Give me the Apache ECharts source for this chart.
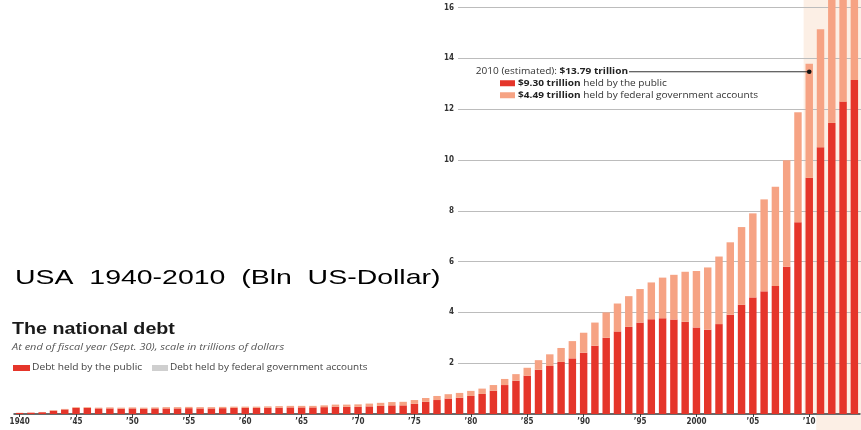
<!DOCTYPE html>
<html>
<head>
<meta charset="utf-8">
<script src="https://cdn.jsdelivr.net/npm/echarts@6/dist/echarts.min.js"></script>
<style>
  html, body { margin: 0; padding: 0; background: #fff; }
  #c { width: 861px; height: 430px; }
</style>
</head>
<body>
<div id="c"></div>
<script>
// Fiscal years shown on the category axis
const years = [
  1940,1941,1942,1943,1944,1945,1946,1947,1948,1949,
  1950,1951,1952,1953,1954,1955,1956,1957,1958,1959,
  1960,1961,1962,1963,1964,1965,1966,1967,1968,1969,
  1970,1971,1972,1973,1974,1975,1976,1977,1978,1979,
  1980,1981,1982,1983,1984,1985,1986,1987,1988,1989,
  1990,1991,1992,1993,1994,1995,1996,1997,1998,1999,
  2000,2001,2002,2003,2004,2005,2006,2007,2008,2009,
  2010,2011,2012,2013,2014
];

// Debt held by the public, trillions of dollars
const publicDebt = [
  0.04,0.05,0.07,0.13,0.18,0.24,0.24,0.22,0.22,0.21,
  0.22,0.21,0.22,0.22,0.22,0.23,0.22,0.22,0.23,0.24,
  0.24,0.24,0.25,0.25,0.26,0.26,0.26,0.27,0.29,0.28,
  0.28,0.30,0.32,0.34,0.34,0.40,0.48,0.55,0.61,0.64,
  0.71,0.79,0.92,1.14,1.31,1.51,1.74,1.89,2.05,2.19,
  2.41,2.69,3.00,3.25,3.43,3.60,3.73,3.77,3.72,3.63,
  3.41,3.32,3.54,3.91,4.30,4.59,4.83,5.04,5.80,7.55,
  9.30,10.50,11.46,12.30,13.15
];

// Debt held by federal government accounts, trillions of dollars
const intragovDebt = [
  0.01,0.01,0.01,0.02,0.02,0.03,0.03,0.03,0.04,0.04,
  0.04,0.04,0.04,0.05,0.05,0.05,0.05,0.05,0.05,0.05,
  0.05,0.05,0.05,0.06,0.06,0.06,0.06,0.07,0.08,0.09,
  0.10,0.11,0.12,0.13,0.14,0.15,0.15,0.16,0.17,0.19,
  0.20,0.21,0.22,0.24,0.26,0.31,0.38,0.46,0.55,0.68,
  0.79,0.91,1.00,1.10,1.21,1.32,1.45,1.60,1.76,1.97,
  2.22,2.45,2.66,2.85,3.06,3.31,3.62,3.91,4.19,4.33,
  4.49,4.65,4.95,5.20,5.45
];

// Value axis tick labels
const yTicks = [2, 4, 6, 8, 10, 12, 14, 16];

const highlightYear = 2010;   // estimated year, called out and shaded
const tickStep = 5;           // a year label every five years

const RED = '#e5352a';
const SALMON = '#f6a384';
const BAND = '#fcefe5';
const SANS = '"Liberation Sans", Arial, sans-serif';
const HUMAN = '"Open Sans", "Liberation Sans", sans-serif';
const COND = '"DejaVu Sans Condensed", "Liberation Sans Narrow", "DejaVu Sans", sans-serif';
const Y_MAX = 16.3;

const firstYear = years[0];
const showYear = (i, v) => (Number(v) - firstYear) % tickStep === 0;
const yearLabel = v => {
  const n = Number(v);
  return (n === firstYear || n % 100 === 0) ? String(n) : '\u2019' + String(n).slice(2);
};

const chart = echarts.init(document.getElementById('c'), null, { renderer: 'canvas' });

const option = {
  animation: false,
  backgroundColor: '#fff',
  grid: [
    { left: 14, right: 1, top: 0, bottom: 16 },
    { left: 458, right: 0, top: 0, bottom: 16 }
  ],
  xAxis: [
    {
      type: 'category', gridIndex: 0, data: years.map(String),
      axisLine: { lineStyle: { color: '#3a3a3a', width: 1.5 } },
      axisTick: { show: true, interval: showYear, alignWithLabel: true, length: 3,
                  lineStyle: { color: '#3a3a3a' } },
      axisLabel: { interval: showYear, formatter: yearLabel, fontSize: 8, fontWeight: 'bold',
                   color: '#333', margin: 4, fontFamily: COND },
      splitLine: { show: false }
    },
    { type: 'value', gridIndex: 1, show: false, min: 0, max: 1 }
  ],
  yAxis: [
    { type: 'value', gridIndex: 0, min: 0, max: Y_MAX, show: false, splitLine: { show: false } },
    {
      type: 'value', gridIndex: 1, min: 0, max: Y_MAX, interval: yTicks[1] - yTicks[0],
      axisLine: { show: false }, axisTick: { show: false },
      axisLabel: { showMinLabel: false, showMaxLabel: false, fontSize: 8, fontWeight: 'bold',
                   color: '#333', margin: 4, fontFamily: COND,
                   formatter: v => yTicks.includes(v) ? String(v) : '' },
      splitLine: { show: true, showMinLine: false, showMaxLine: false,
                   lineStyle: { color: '#bcbcbc', width: 1 } }
    }
  ],
  series: [
    { name: 'Debt held by the public', type: 'bar', stack: 'debt', xAxisIndex: 0, yAxisIndex: 0,
      data: publicDebt, barWidth: '66%', itemStyle: { color: RED }, z: 3 },
    { name: 'Debt held by federal government accounts', type: 'bar', stack: 'debt',
      xAxisIndex: 0, yAxisIndex: 0,
      data: intragovDebt, barWidth: '66%', itemStyle: { color: SALMON }, z: 3 }
  ]
};

chart.setOption(option);

// Positions derived from the axes for the shaded estimate band and the call-out
const hi = years.indexOf(highlightYear);
const pubHi = publicDebt[hi];
const govHi = intragovDebt[hi];
const totalHi = Math.round((pubHi + govHi) * 100) / 100;
const pA = chart.convertToPixel({ xAxisIndex: 0, yAxisIndex: 0 }, [String(years[hi]), totalHi]);
const pB = chart.convertToPixel({ xAxisIndex: 0, yAxisIndex: 0 }, [String(years[hi + 1]), 0]);
const base = chart.convertToPixel({ xAxisIndex: 0, yAxisIndex: 0 }, [String(years[hi]), 0]);
const bandW = pB[0] - pA[0];
const W = chart.getWidth(), H = chart.getHeight();
const dotY = pA[1] + 8;

const calloutRich = {
  n: { fontSize: 9, fontFamily: HUMAN, fill: '#333' },
  b: { fontSize: 9, fontFamily: HUMAN, fontWeight: 'bold', fill: '#222' }
};

chart.setOption({
  graphic: [
    // shaded estimate band
    { type: 'rect', z: -10, silent: true,
      shape: { x: pA[0] - bandW / 2, y: 0, width: W - (pA[0] - bandW / 2), height: base[1] },
      style: { fill: BAND } },
    { type: 'rect', z: -10, silent: true,
      shape: { x: pA[0] + 7, y: base[1] + 1, width: W - pA[0] - 7, height: H - base[1] },
      style: { fill: BAND } },

    // call-out for the estimated year
    { type: 'line', z: 10, silent: true,
      shape: { x1: 629, y1: dotY, x2: pA[0], y2: dotY },
      style: { stroke: '#333', lineWidth: 1 } },
    { type: 'circle', z: 11, silent: true,
      shape: { cx: pA[0], cy: dotY, r: 2.3 }, style: { fill: '#111' } },
    { type: 'text', z: 10, x: 628, y: dotY, scaleX: 1.12, silent: true,
      style: {
        text: '{n|' + years[hi] + ' (estimated): }{b|$' + totalHi.toFixed(2) + ' trillion}',
        align: 'right', verticalAlign: 'middle', textAlign: 'right', textVerticalAlign: 'middle',
        rich: calloutRich
      } },
    { type: 'rect', z: 10, silent: true, shape: { x: 500, y: dotY + 8.5, width: 15, height: 6 },
      style: { fill: RED } },
    { type: 'text', z: 10, x: 518, y: dotY + 11.5, scaleX: 1.12, silent: true,
      style: {
        text: '{b|$' + pubHi.toFixed(2) + ' trillion}{n| held by the public}',
        verticalAlign: 'middle', textVerticalAlign: 'middle',
        rich: calloutRich
      } },
    { type: 'rect', z: 10, silent: true, shape: { x: 500, y: dotY + 20.5, width: 15, height: 6 },
      style: { fill: SALMON } },
    { type: 'text', z: 10, x: 518, y: dotY + 23.5, scaleX: 1.12, silent: true,
      style: {
        text: '{b|$' + govHi.toFixed(2) + ' trillion}{n| held by federal government accounts}',
        verticalAlign: 'middle', textVerticalAlign: 'middle',
        rich: calloutRich
      } },

    // headline overlay
    { type: 'text', z: 20, x: 15, y: 278, scaleX: 1.355, silent: true,
      style: { text: 'USA  1940-2010  (Bln  US-Dollar)', font: '21px ' + SANS, fill: '#000',
               verticalAlign: 'middle', textVerticalAlign: 'middle' } },

    // chart title block
    { type: 'text', z: 20, x: 12, y: 330, scaleX: 1.23, silent: true,
      style: { text: 'The national debt', font: 'bold 16px ' + SANS, fill: '#1a1a1a',
               verticalAlign: 'middle', textVerticalAlign: 'middle' } },
    { type: 'text', z: 20, x: 12, y: 347, scaleX: 1.22, silent: true,
      style: { text: 'At end of fiscal year (Sept. 30), scale in trillions of dollars',
               font: 'italic 9px ' + HUMAN, fill: '#555',
               verticalAlign: 'middle', textVerticalAlign: 'middle' } },

    // legend
    { type: 'rect', z: 20, silent: true, shape: { x: 13, y: 365, width: 17, height: 6 },
      style: { fill: RED } },
    { type: 'text', z: 20, x: 32, y: 368, scaleX: 1.2, silent: true,
      style: { text: 'Debt held by the public', font: '8.5px ' + HUMAN, fill: '#444',
               verticalAlign: 'middle', textVerticalAlign: 'middle' } },
    { type: 'rect', z: 20, silent: true, shape: { x: 152, y: 365, width: 16, height: 6 },
      style: { fill: '#cfcfcf' } },
    { type: 'text', z: 20, x: 170, y: 368, scaleX: 1.17, silent: true,
      style: { text: 'Debt held by federal government accounts', font: '8.5px ' + HUMAN, fill: '#444',
               verticalAlign: 'middle', textVerticalAlign: 'middle' } }
  ]
});
</script>
</body>
</html>
